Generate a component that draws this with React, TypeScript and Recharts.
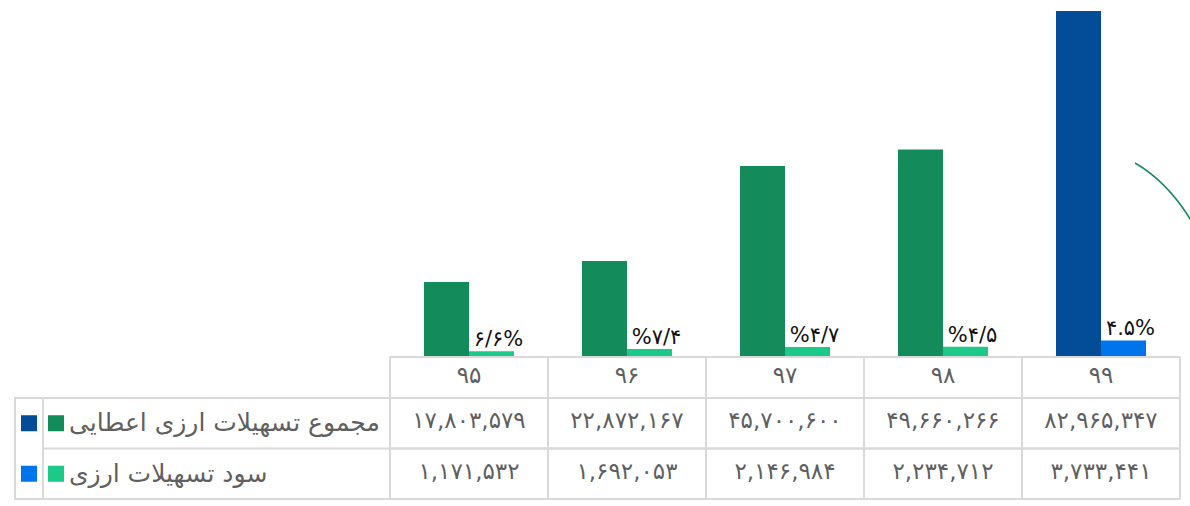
import { Bar, BarChart, Cell, Customized, LabelList, XAxis, YAxis } from "recharts";

const years = ["۹۵", "۹۶", "۹۷", "۹۸", "۹۹"];
const totalFacilities = [17803579, 22872167, 45700600, 49660266, 82965347];
const facilityProfit = [1171532, 1692053, 2146984, 2234712, 3733441];
// percent labels, written in the order they appear on screen
const profitLabels = ["۶/۶%", "%۷/۴", "%۴/۷", "%۴/۵", "۴.۵%"];
const seriesNames = ["مجموع تسهیلات ارزی اعطایی", "سود تسهیلات ارزی"];

const TOTAL_FILL = "#138b5a";
const TOTAL_LAST = "#034c97";
const PROFIT_FILL = "#1dc988";
const PROFIT_LAST = "#0074eb";
const GRID = "#d9d9d9";
const TEXT = "#5f5f5f";
const FONT = "'DejaVu Sans', sans-serif";

const W = 1190;
const H = 506;
const MARGIN = { top: 11, right: 10, left: 390, bottom: 0 };
const AXIS_H = 150;
const COL_W = 158;
const HEAD_H = 41;
const ROW_H = 50.5;

const FA_DIGITS = "۰۱۲۳۴۵۶۷۸۹";
const toFa = (n: number) => n.toLocaleString("en-US").replace(/\d/g, (d) => FA_DIGITS[+d]);

const data = years.map((year, i) => ({
  year,
  total: totalFacilities[i],
  profit: facilityProfit[i],
  label: profitLabels[i],
}));

function TableColumn(props: any) {
  const { x, y, payload } = props;
  const i: number = payload?.index ?? props.index ?? 0;
  const left = x - COL_W / 2;
  const top = y + 1;
  const cell = (cy: number, h: number, text: string, base: number) => (
    <g>
      <rect x={left} y={cy} width={COL_W} height={h} fill="none" stroke={GRID} strokeWidth={2} />
      <text x={x} y={base} textAnchor="middle" fill={TEXT} fontSize={23} fontFamily={FONT}>
        {text}
      </text>
    </g>
  );
  return (
    <g>
      {cell(top, HEAD_H, years[i], top + 26)}
      {cell(top + HEAD_H, ROW_H, toFa(totalFacilities[i]), top + HEAD_H + 30)}
      {cell(top + HEAD_H + ROW_H, ROW_H, toFa(facilityProfit[i]), top + HEAD_H + ROW_H + 30)}
    </g>
  );
}

function ProfitLabel(props: any) {
  const { x, y, width, value } = props;
  return (
    <text
      x={x + width / 2 + 7}
      y={y - 5}
      textAnchor="middle"
      fill="#111"
      fontSize={21}
      fontFamily={FONT}
      style={{ direction: "ltr", unicodeBidi: "bidi-override" }}
    >
      {value}
    </text>
  );
}

// legend/key cells to the left of the table, plus the stray arc at the right edge
function LegendCells() {
  const top = H - MARGIN.bottom - AXIS_H + 1 + HEAD_H;
  const right = MARGIN.left;
  const keys = [
    [TOTAL_LAST, TOTAL_FILL],
    [PROFIT_LAST, PROFIT_FILL],
  ];
  return (
    <g>
      <rect x={15} y={top} width={right - 15} height={ROW_H * 2} fill="none" stroke={GRID} strokeWidth={2} />
      <line x1={43} y1={top} x2={43} y2={top + ROW_H * 2} stroke={GRID} strokeWidth={2} />
      <line x1={43} y1={top + ROW_H} x2={right} y2={top + ROW_H} stroke={GRID} strokeWidth={2} />
      {seriesNames.map((name, r) => {
        const mid = top + ROW_H * r + ROW_H / 2;
        return (
          <g key={name}>
            <rect x={21} y={mid - 8} width={16} height={16} fill={keys[r][0]} />
            <rect x={48} y={mid - 8} width={16} height={16} fill={keys[r][1]} />
            <text x={69} y={mid + 8} textAnchor="start" fill={TEXT} fontSize={25} fontFamily={FONT}>
              {name}
            </text>
          </g>
        );
      })}
      <path d="M1135 163 Q1168 182 1192 222" fill="none" stroke={TOTAL_FILL} strokeWidth={1.5} />
    </g>
  );
}

export default function App() {
  return (
    <div style={{ position: "absolute", left: 0, top: 0, width: W, height: H, background: "#fff" }}>
      <BarChart width={W} height={H} data={data} margin={MARGIN} barGap={0}>
        <XAxis
          dataKey="year"
          height={AXIS_H}
          axisLine={false}
          tickLine={false}
          tickSize={0}
          tickMargin={0}
          interval={0}
          tick={<TableColumn />}
        />
        <YAxis hide domain={[0, "dataMax"]} />
        <Bar dataKey="total" barSize={45} isAnimationActive={false}>
          {data.map((d, i) => (
            <Cell key={d.year} fill={i === data.length - 1 ? TOTAL_LAST : TOTAL_FILL} />
          ))}
        </Bar>
        <Bar dataKey="profit" barSize={45} isAnimationActive={false}>
          {data.map((d, i) => (
            <Cell key={d.year} fill={i === data.length - 1 ? PROFIT_LAST : PROFIT_FILL} />
          ))}
          <LabelList dataKey="label" content={<ProfitLabel />} />
        </Bar>
        <Customized component={<LegendCells />} />
      </BarChart>
    </div>
  );
}
